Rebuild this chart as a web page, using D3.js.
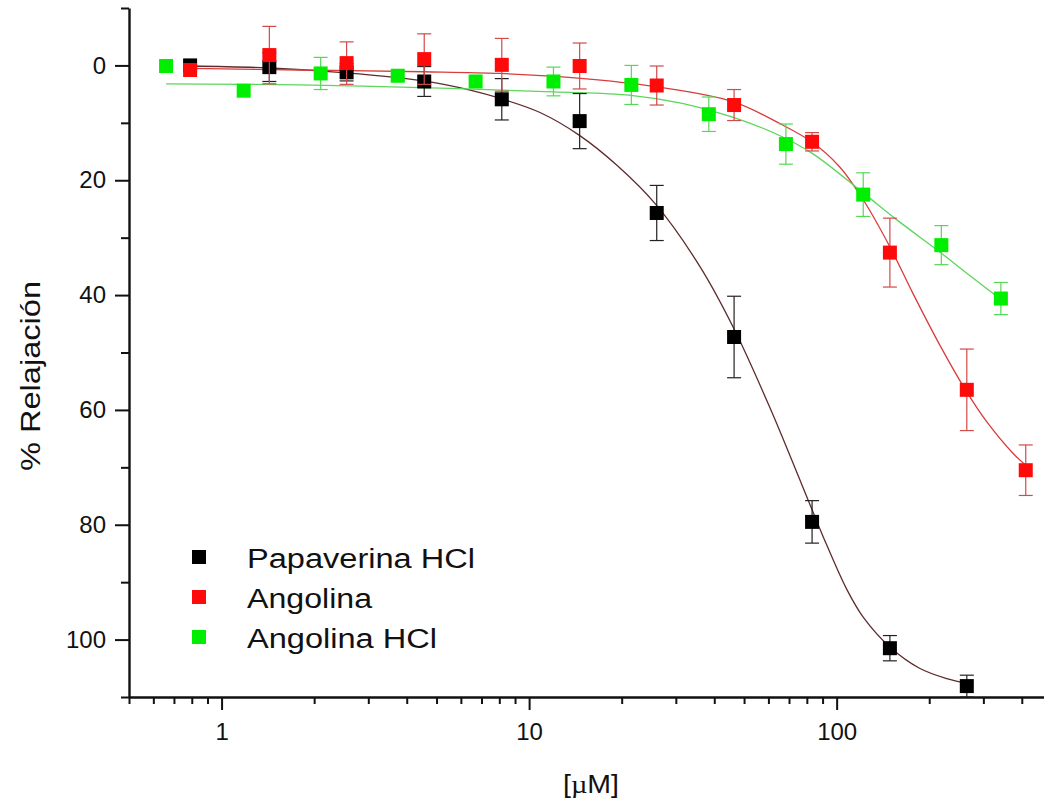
<!DOCTYPE html>
<html>
<head>
<meta charset="utf-8">
<script src="https://cdn.jsdelivr.net/npm/d3@7"></script>
<style>
  body { margin: 0; background: #fff; }
  svg { display: block; background: #fff; }
  text { font-family: "Liberation Sans", Arial, sans-serif; fill: #111; }
</style>
</head>
<body>
<svg id="chart" width="1044" height="802"></svg>
<script>
// ---- Concentrations (µM) and % relaxation, mean ± error ----
const concPapaverina = [0.79, 1.43, 2.55, 4.56, 8.15, 14.6, 26.0, 46.4, 83.2, 149, 265];
const papaverina     = [0, 0.3, 1.2, 2.8, 5.9, 9.7, 25.7, 47.3, 79.5, 101.5, 108.1];
const papaverinaErr  = [0.4, 2.5, 1.5, 2.6, 3.6, 4.8, 4.8, 7.1, 3.7, 2.2, 1.9];

const concAngolina = [0.79, 1.43, 2.55, 4.56, 8.15, 14.6, 26.0, 46.4, 83.2, 149, 265, 412];
const angolina     = [0.8, -1.8, -0.4, -1.1, -0.1, 0.1, 3.5, 6.9, 13.3, 32.6, 56.5, 70.5];
const angolinaErr  = [0.5, 5.0, 3.7, 4.4, 4.6, 4.0, 3.4, 2.7, 1.6, 6.0, 7.1, 4.4];

const concAngolinaHCl = [0.66, 1.18, 2.10, 3.74, 6.70, 12.0, 21.5, 38.4, 68.4, 122, 219, 342];
const angolinaHCl     = [0.1, 4.4, 1.4, 1.8, 2.8, 2.8, 3.4, 8.5, 13.7, 22.5, 31.3, 40.6];
const angolinaHClErr  = [0.3, 0.5, 2.8, 0.8, 0.5, 2.5, 3.4, 3.0, 3.5, 3.8, 3.4, 2.8];

// ---- Fitted dose–response curves (concentration, %) ----
const fitPapaverinaConc = [0.79, 1.43, 2.54, 4.54, 6.43, 8.12, 10.85, 14.5, 19.3, 25.9, 35.9, 46.4, 60.9, 83.2, 92.8, 108, 122, 149, 186, 228, 265];
const fitPapaverinaVal  = [0.1, 0.45, 1.3, 2.7, 4.3, 5.8, 8.2, 12.1, 17.4, 24.3, 35.0, 45.9, 59.8, 77.4, 83.5, 91.3, 96.1, 101.3, 105.0, 106.8, 107.6];

const fitAngolinaConc = [0.79, 1.80, 4.54, 8.03, 14.4, 25.8, 46.0, 65.2, 82.9, 102, 122, 149, 177, 217, 263, 308, 375, 411];
const fitAngolinaVal  = [0.5, 0.8, 1.1, 1.4, 2.2, 3.7, 6.3, 10.1, 13.3, 17.6, 23.4, 31.6, 39.7, 48.8, 56.6, 62.1, 67.6, 69.6];

const fitAngolinaHClConc = [0.66, 1.80, 5.53, 11.95, 21.4, 31.5, 45.9, 65.2, 83.8, 122, 157, 219, 265, 339];
const fitAngolinaHClVal  = [3.2, 3.4, 4.0, 4.6, 5.2, 6.6, 9.0, 12.2, 15.4, 22.2, 26.9, 32.7, 36.2, 40.6];

// ---- Axis ticks and labels ----
const xMajorTicks = [1, 10, 100];
const xMinorTicks = [0.5, 0.6, 0.7, 0.8, 0.9, 2, 3, 4, 5, 6, 7, 8, 9, 20, 30, 40, 50, 60, 70, 80, 90, 200, 300, 400, 500];
const yMajorTicks = [0, 20, 40, 60, 80, 100];
const yMinorTicks = [-10, 10, 30, 50, 70, 90, 110];
const seriesNames = ["Papaverina HCl", "Angolina", "Angolina HCl"];
const xTitle = "[µM]";
const yTitle = "% Relajación";

// ---- Series styling ----
const series = [
  { name: seriesNames[0], conc: concPapaverina, val: papaverina, err: papaverinaErr,
    fitC: fitPapaverinaConc, fitV: fitPapaverinaVal,
    fill: "#000000", bar: "#222222", line: "#5e2c2c" },
  { name: seriesNames[1], conc: concAngolina, val: angolina, err: angolinaErr,
    fitC: fitAngolinaConc, fitV: fitAngolinaVal,
    fill: "#ff0a0a", bar: "#d24a4a", line: "#d93c3c" },
  { name: seriesNames[2], conc: concAngolinaHCl, val: angolinaHCl, err: angolinaHClErr,
    fitC: fitAngolinaHClConc, fitV: fitAngolinaHClVal,
    fill: "#00ee00", bar: "#55d855", line: "#5cd65c" }
];

const svg = d3.select("#chart");

const x = d3.scaleLog().domain([0.5, 500]).range([129, 1051.6]);
const y = d3.scaleLinear().domain([-10, 110]).range([8, 697]);

// ---- Axes ----
function styleAxis(g, width) {
  g.selectAll(".domain").attr("stroke", "#111").attr("stroke-width", width);
  g.selectAll(".tick line").attr("stroke", "#111").attr("stroke-width", 2);
  g.selectAll(".tick text").style("font-size", "24px").attr("fill", "#111");
}

const yMinorG = svg.append("g").attr("transform", "translate(129,0)")
  .call(d3.axisLeft(y).tickValues(yMinorTicks).tickSize(8).tickSizeOuter(0).tickFormat(""));
yMinorG.select(".domain").remove();
styleAxis(yMinorG, 2);

const yG = svg.append("g").attr("transform", "translate(129,0)")
  .call(d3.axisLeft(y).tickValues(yMajorTicks).tickSize(14).tickSizeOuter(0)
    .tickPadding(9).tickFormat(d3.format("d")));
styleAxis(yG, 2.4);

const xMinorG = svg.append("g").attr("transform", "translate(0,697)")
  .call(d3.axisBottom(x).tickValues(xMinorTicks).tickSize(7).tickSizeOuter(0).tickFormat(""));
xMinorG.select(".domain").remove();
styleAxis(xMinorG, 2);

const xG = svg.append("g").attr("transform", "translate(0,697)")
  .call(d3.axisBottom(x).tickValues(xMajorTicks).tickSize(13).tickSizeOuter(0)
    .tickPadding(13).tickFormat(d3.format("d")));
styleAxis(xG, 2.4);

// ---- Fitted curves ----
const line = d3.line().x(d => x(d[0])).y(d => y(d[1])).curve(d3.curveCatmullRom.alpha(0.5));
series.forEach(s => {
  svg.append("path")
    .datum(s.fitC.map((c, i) => [c, s.fitV[i]]))
    .attr("fill", "none")
    .attr("stroke", s.line)
    .attr("stroke-width", 1.3)
    .attr("d", line);
});

// ---- Error bars and markers ----
const half = 7, cap = 7;
series.forEach(s => {
  const pts = s.conc.map((c, i) => ({ c, v: s.val[i], e: s.err[i] }));
  const g = svg.append("g");
  const eb = g.selectAll("g.eb").data(pts.filter(p => p.e > 0.6)).join("g")
    .attr("stroke", s.bar).attr("stroke-width", 1.2);
  eb.append("line")
    .attr("x1", d => x(d.c)).attr("x2", d => x(d.c))
    .attr("y1", d => y(d.v - d.e)).attr("y2", d => y(d.v + d.e));
  eb.append("line")
    .attr("x1", d => x(d.c) - cap).attr("x2", d => x(d.c) + cap)
    .attr("y1", d => y(d.v - d.e)).attr("y2", d => y(d.v - d.e));
  eb.append("line")
    .attr("x1", d => x(d.c) - cap).attr("x2", d => x(d.c) + cap)
    .attr("y1", d => y(d.v + d.e)).attr("y2", d => y(d.v + d.e));
  g.selectAll("rect").data(pts).join("rect")
    .attr("x", d => x(d.c) - half).attr("y", d => y(d.v) - half)
    .attr("width", half * 2).attr("height", half * 2)
    .attr("fill", s.fill);
});

// ---- Legend ----
const legendTextLen = [228, 125, 190];
const legend = svg.append("g").attr("transform", "translate(199,557)");
series.forEach((s, i) => {
  const row = legend.append("g").attr("transform", `translate(0,${i * 40})`);
  row.append("rect").attr("x", -7).attr("y", -7).attr("width", 14).attr("height", 14).attr("fill", s.fill);
  row.append("text").attr("x", 48).attr("y", 10.5)
    .style("font-size", "27px")
    .attr("textLength", legendTextLen[i]).attr("lengthAdjust", "spacingAndGlyphs")
    .text(s.name);
});

// ---- Axis titles ----
svg.append("text")
  .attr("transform", "translate(40,376) rotate(-90)")
  .attr("text-anchor", "middle")
  .style("font-size", "27px")
  .attr("textLength", 190).attr("lengthAdjust", "spacingAndGlyphs")
  .text(yTitle);

const xt = svg.append("text")
  .attr("x", 591).attr("y", 793)
  .attr("text-anchor", "middle")
  .style("font-size", "26px")
  .attr("textLength", 56).attr("lengthAdjust", "spacingAndGlyphs");
xt.append("tspan").text(xTitle.slice(0, 1));
xt.append("tspan").style("font-family", "'Liberation Serif', serif").text(xTitle.slice(1, 2));
xt.append("tspan").text(xTitle.slice(2));
</script>
</body>
</html>
